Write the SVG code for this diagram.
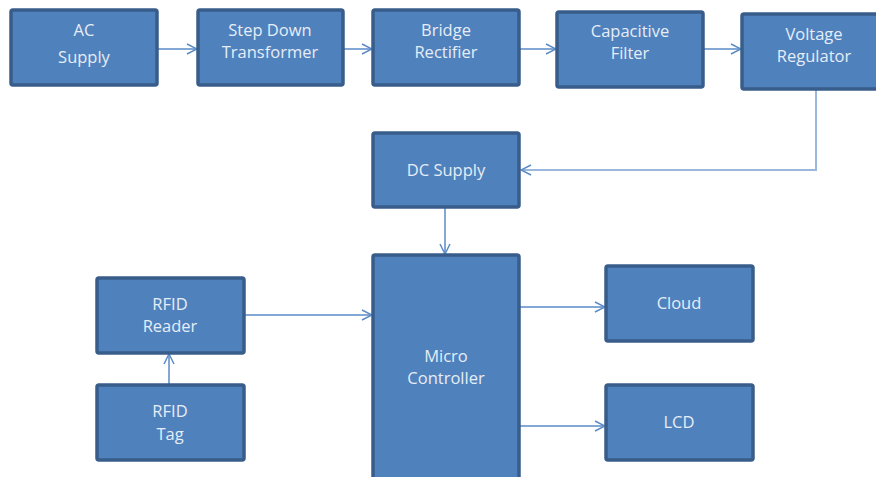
<svg xmlns="http://www.w3.org/2000/svg" width="876" height="477" viewBox="0 0 876 477">
<defs>
<style>
.box{fill:#4F81BD;stroke:#385D8A;stroke-width:3.5}
.t{font-family:"Open Sans","Liberation Sans",sans-serif;font-size:16.5px;fill:#E6EDF6;text-anchor:middle}
.c{fill:none;stroke:#5B8BC7;stroke-width:1.5}
.c2{fill:none;stroke:#9AB8DC;stroke-width:2}
</style>
<marker id="a" viewBox="0 0 12 12" refX="11" refY="6" markerWidth="12" markerHeight="12" markerUnits="userSpaceOnUse" orient="auto">
<path d="M1,1 L11,6 L1,11" fill="none" stroke="#5B8BC7" stroke-width="1.5"/>
</marker>
</defs>
<rect width="876" height="477" fill="#FFFFFF"/>
<g id="connectors">
<line class="c" x1="157" y1="49" x2="197" y2="49" marker-end="url(#a)"/>
<line class="c" x1="343" y1="49" x2="372" y2="49" marker-end="url(#a)"/>
<line class="c" x1="519" y1="49" x2="556" y2="49" marker-end="url(#a)"/>
<line class="c" x1="703" y1="49" x2="741" y2="49" marker-end="url(#a)"/>
<path class="c2" d="M816,89 V170 H521" marker-end="url(#a)"/>
<line class="c" x1="445" y1="207" x2="445" y2="254" marker-end="url(#a)"/>
<line class="c" x1="244" y1="315" x2="372" y2="315" marker-end="url(#a)"/>
<line class="c" x1="169" y1="384" x2="169" y2="354" marker-end="url(#a)"/>
<line class="c" x1="519" y1="307" x2="605" y2="307" marker-end="url(#a)"/>
<line class="c" x1="519" y1="426" x2="605" y2="426" marker-end="url(#a)"/>
</g>
<g id="ac"><rect class="box" x="11" y="10" width="146" height="75" rx="2"/><text class="t" x="84" y="36">AC</text><text class="t" x="84" y="63">Supply</text></g>
<g id="step"><rect class="box" x="198" y="10" width="145" height="75" rx="2"/><text class="t" x="270" y="36">Step Down</text><text class="t" x="270" y="58">Transformer</text></g>
<g id="bridge"><rect class="box" x="373" y="10" width="146" height="75" rx="2"/><text class="t" x="446" y="36">Bridge</text><text class="t" x="446" y="58">Rectifier</text></g>
<g id="filter"><rect class="box" x="557" y="12" width="146" height="75" rx="2"/><text class="t" x="630" y="37">Capacitive</text><text class="t" x="630" y="59">Filter</text></g>
<g id="regulator"><rect class="box" x="742" y="14" width="146" height="75" rx="2"/><text class="t" x="814" y="40">Voltage</text><text class="t" x="814" y="62">Regulator</text></g>
<g id="dc"><rect class="box" x="373" y="133" width="146" height="74" rx="2"/><text class="t" x="446" y="176">DC Supply</text></g>
<g id="mc"><rect class="box" x="373" y="255" width="146" height="240" rx="2"/><text class="t" x="446" y="362">Micro</text><text class="t" x="446" y="384">Controller</text></g>
<g id="reader"><rect class="box" x="97" y="278" width="147" height="75" rx="2"/><text class="t" x="170" y="310">RFID</text><text class="t" x="170" y="332">Reader</text></g>
<g id="tag"><rect class="box" x="97" y="385" width="147" height="75" rx="2"/><text class="t" x="170" y="417">RFID</text><text class="t" x="170" y="440">Tag</text></g>
<g id="cloud"><rect class="box" x="606" y="266" width="147" height="75" rx="2"/><text class="t" x="679" y="309">Cloud</text></g>
<g id="lcd"><rect class="box" x="606" y="385" width="147" height="75" rx="2"/><text class="t" x="679" y="428">LCD</text></g>
</svg>
